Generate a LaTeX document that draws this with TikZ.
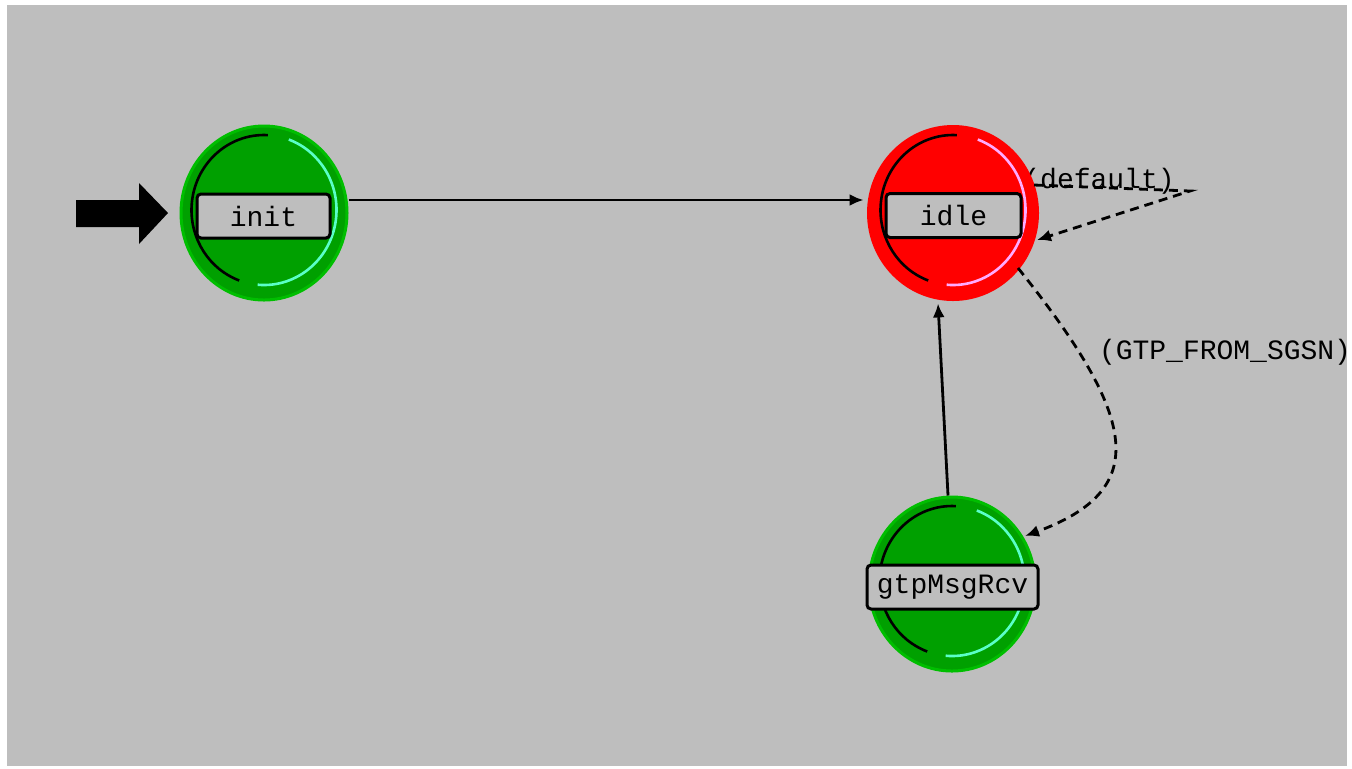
\documentclass[tikz,border=0pt]{standalone}
\usepackage{fontspec}
\setmonofont{Liberation Mono}
\usetikzlibrary{shapes.geometric,arrows.meta,calc}
\definecolor{bg}{RGB}{190,190,190}
\definecolor{stgreen}{RGB}{0,160,0}
\definecolor{stgreenedge}{RGB}{0,190,0}
\definecolor{stred}{RGB}{255,0,0}
\definecolor{ringcyan}{RGB}{90,255,200}
\definecolor{ringpink}{RGB}{255,170,255}
\begin{document}
\begin{tikzpicture}[x=0.5pt,y=-0.5pt,
  state/.style={ellipse,minimum width=83pt,minimum height=87pt,inner sep=0pt},
  greenstate/.style={state,fill=stgreen,draw=stgreenedge,line width=1.5pt},
  redstate/.style={state,fill=stred},
  lbl/.style={draw=black,line width=1.5pt,rounded corners=2pt,fill=bg,
    font=\ttfamily\fontsize{14}{16}\selectfont,inner sep=0pt,minimum height=22pt},
  tlabel/.style={font=\ttfamily\fontsize{14}{16}\selectfont,inner sep=0pt},
  conn/.style={line width=1.4pt,-{Latex[length=7pt,width=6pt]}},
  dconn/.style={conn,dash pattern=on 4.5pt off 3pt},
  ringdark/.style={line width=1.3pt,black},
]
\useasboundingbox (0,0) rectangle (1352,768);
\fill[white] (0,0) rectangle (1352,768);
\fill[bg] (7,5) rectangle (1347,766);

% transition labels (the first partly hidden by the idle state)
\node[tlabel] (deflbl) at (1099,181) {(default)};
\node[tlabel] (gtplbl) at (1225,352) {(GTP\_FROM\_SGSN)};

% states
\node[greenstate] (init) at (264,213) {};
\node[redstate,minimum width=86pt,minimum height=88pt] (idle) at (953,213) {};
\node[greenstate] (gtp) at (952,584) {};

% inner rings
\foreach \c/\lc in {init/ringcyan,idle/ringpink,gtp/ringcyan}{
  \draw[ringdark] ($(\c.center)+(0,-3)$) ++(-87:72.5 and 75)
     arc[start angle=-87,end angle=-250,x radius=72.5,y radius=75];
  \draw[line width=1.3pt,\lc] ($(\c.center)+(0,-3)$) ++(95:72.5 and 75)
     arc[start angle=95,end angle=-70,x radius=72.5,y radius=75];
}

% state labels
\node[lbl,minimum width=66.5pt] (initbox) at (263.5,216) {init};
\node[lbl,minimum width=67.5pt] (idlebox) at (953.5,215.5) {idle};
\node[lbl,minimum width=85.5pt] (gtpbox) at (952.5,587) {gtpMsgRcv};

% start arrow
\coordinate (start) at (168,213);
\fill[black] (start) -- ++(-29,-30) -- ++(0,17) -- ++(-63,0) -- ++(0,27)
   -- ++(63,0) -- ++(0,17) -- cycle;

% transitions
\draw[conn] ($(init.east)+(0,-13)$) -- ($(idle.west)+(-3,-13)$);
\draw[conn] ($(gtp.north)+(-4,0)$) -- ($(idle.south)+(-15,2)$);
\coordinate (loopA) at (1034,185);
\coordinate (loopB) at (1190,191);
\coordinate (loopC) at (1037,240);
\draw[dconn] (loopA) -- (loopB) -- (loopC);
\coordinate (dA) at (1018,268);
\coordinate (dB) at (1025,536);
\draw[dconn] (dA) .. controls (1140,420) and (1150,490) .. (dB);
\end{tikzpicture}
\end{document}
